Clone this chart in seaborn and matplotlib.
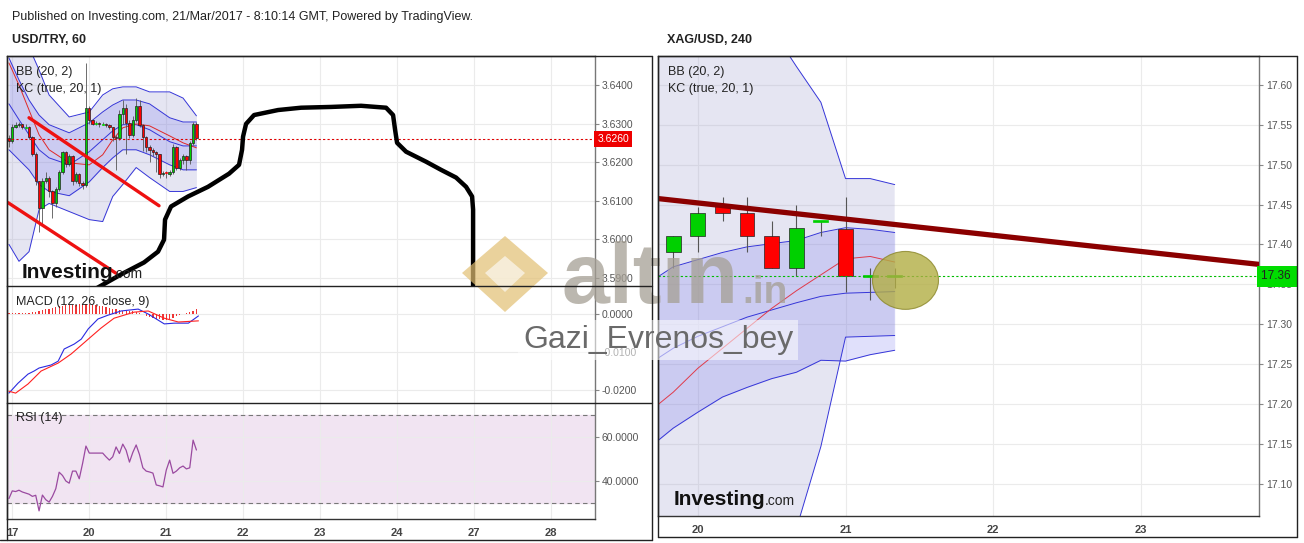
import numpy as np
import matplotlib
matplotlib.use("Agg")
import matplotlib.pyplot as plt
import matplotlib.transforms as mtransforms
import seaborn as sns
from matplotlib.patches import Ellipse, Polygon
from matplotlib.lines import Line2D

# ---------------- USD/TRY, 60 ----------------
etiquetas_dias_usd = ["17", "20", "21", "22", "23", "24", "27", "28"]

apertura_inicial_usd = 3.6262
cierre_usd = [3.6255, 3.6292, 3.6295, 3.6298, 3.6290, 3.6292, 3.6265, 3.6222, 3.6150, 3.6080,
              3.6150, 3.6160, 3.6125, 3.6095, 3.6130, 3.6175, 3.6225, 3.6195, 3.6215, 3.6150,
              3.6170, 3.6145, 3.6140, 3.6340, 3.6310, 3.6300, 3.6302, 3.6298, 3.6300, 3.6296,
              3.6290, 3.6265, 3.6262, 3.6325, 3.6340, 3.6302, 3.6270, 3.6310, 3.6345, 3.6295,
              3.6265, 3.6240, 3.6232, 3.6225, 3.6220, 3.6168, 3.6172, 3.6170, 3.6175, 3.6240,
              3.6185, 3.6205, 3.6215, 3.6205, 3.6250, 3.6300, 3.6262]
maximo_usd = [3.6270, 3.6300, 3.6305, 3.6305, 3.6300, 3.6298, 3.6293, 3.6268, 3.6225, 3.6152,
              3.6160, 3.6175, 3.6163, 3.6128, 3.6135, 3.6180, 3.6228, 3.6228, 3.6220, 3.6218,
              3.6175, 3.6172, 3.6150, 3.6457, 3.6345, 3.6312, 3.6306, 3.6304, 3.6303, 3.6302,
              3.6298, 3.6292, 3.6270, 3.6335, 3.6360, 3.6350, 3.6310, 3.6320, 3.6365, 3.6360,
              3.6298, 3.6268, 3.6245, 3.6236, 3.6228, 3.6222, 3.6178, 3.6176, 3.6180, 3.6248,
              3.6242, 3.6210, 3.6222, 3.6218, 3.6255, 3.6305, 3.6305]
minimo_usd = [3.6240, 3.6250, 3.6288, 3.6290, 3.6285, 3.6286, 3.6260, 3.6215, 3.6140, 3.6018,
              3.6040, 3.6145, 3.6110, 3.6055, 3.6085, 3.6125, 3.6170, 3.6188, 3.6190, 3.6140,
              3.6145, 3.6138, 3.6130, 3.6135, 3.6300, 3.6295, 3.6297, 3.6292, 3.6295, 3.6290,
              3.6285, 3.6255, 3.6180, 3.6258, 3.6300, 3.6220, 3.6262, 3.6265, 3.6305, 3.6290,
              3.6230, 3.6225, 3.6200, 3.6215, 3.6175, 3.6160, 3.6165, 3.6160, 3.6165, 3.6170,
              3.6180, 3.6180, 3.6195, 3.6180, 3.6195, 3.6245, 3.6258]

# bandas (hora de la vela -> valor)
horas_bandas_usd = [0, 3, 6, 9, 12, 18, 24, 28, 31, 34, 38, 42, 48, 52, 56]
bb_sup_usd = [3.6542, 3.6521, 3.6498, 3.6439, 3.6374, 3.6317, 3.6330, 3.6374, 3.6390, 3.6395,
              3.6395, 3.6382, 3.6382, 3.6366, 3.6320]
bb_inf_usd = [3.5987, 3.5943, 3.5968, 3.6077, 3.6093, 3.6072, 3.6051, 3.6046, 3.6111, 3.6142,
              3.6186, 3.6160, 3.6124, 3.6124, 3.6134]
bb_med_usd = [3.6457, 3.6400, 3.6335, 3.6271, 3.6232, 3.6198, 3.6193, 3.6219, 3.6258, 3.6289,
              3.6299, 3.6294, 3.6268, 3.6250, 3.6237]
kc_sup_usd = [3.6470, 3.6413, 3.6361, 3.6322, 3.6297, 3.6276, 3.6302, 3.6330, 3.6348, 3.6361,
              3.6361, 3.6351, 3.6315, 3.6304, 3.6304]
kc_med_usd = [3.6351, 3.6310, 3.6271, 3.6232, 3.6211, 3.6193, 3.6227, 3.6258, 3.6281, 3.6297,
              3.6297, 3.6284, 3.6253, 3.6242, 3.6242]
kc_inf_usd = [3.6232, 3.6206, 3.6180, 3.6142, 3.6124, 3.6113, 3.6149, 3.6186, 3.6211, 3.6232,
              3.6232, 3.6219, 3.6193, 3.6180, 3.6180]

# MACD
horas_macd = [0, 2.7, 5.7, 7.5, 9, 12.6, 14.7, 16.5, 19.5, 21.6, 23.7, 26.6, 29.6, 33.5, 38.6,
              41.6, 46.4, 49.4, 53.6, 56.6]
macd_usd = [-0.0208, -0.0182, -0.0158, -0.0150, -0.0142, -0.0134, -0.0124, -0.0092, -0.0079,
            -0.0066, -0.0039, -0.0013, -0.0003, 0.0008, 0.0013, 0.0000, -0.0026, -0.0024,
            -0.0024, -0.0005]
horas_senal = [0, 2, 5.7, 9.6, 14.7, 18.6, 23.7, 27.5, 31.4, 37.4, 41.6, 46.4, 50.6, 56.6]
senal_usd = [-0.0203, -0.0208, -0.0184, -0.0150, -0.0129, -0.0105, -0.0066, -0.0037, -0.0011,
             0.0005, 0.0008, -0.0011, -0.0021, -0.0018]
histograma_usd = [2, 2, 2, 2, 3, 3, 4, 5, 6, 8, 10, 12, 14, 16, 18, 20, 22, 24, 24, 25,
                  25, 26, 26, 26, 26, 25, 24, 22, 20, 18, 16, 14, 12, 10, 9, 8, 8, 7, 6, 4,
                  0, -4, -8, -10, -12, -14, -16, -16, -14, -10, -6, -3, -1, 2, 5, 9, 13]  # x 1e-4

rsi_usd = [32.0, 35.5, 35.2, 35.8, 35.0, 34.5, 34.0, 33.0, 33.5, 26.4,
           33.6, 31.5, 30.4, 33.0, 36.5, 44.0, 42.5, 40.0, 39.0, 44.5,
           44.5, 41.0, 48.0, 55.9, 52.7, 52.7, 52.7, 52.7, 52.7, 51.0,
           49.5, 51.0, 55.5, 52.5, 56.8, 54.0, 48.6, 53.0, 56.4, 52.0,
           46.0, 44.5, 44.1, 43.6, 38.2, 37.8, 37.3, 45.0, 49.5, 43.5,
           44.5, 46.0, 46.8, 45.5, 46.0, 58.6, 54.1]

# dibujo a mano sobre el grafico (posicion de dia, precio)
curva_x = [1.026, 1.416, 1.714, 1.896, 1.974, 1.987, 2.065, 2.286, 2.545, 2.818, 2.948, 2.987,
           3.000, 3.039, 3.143, 3.455, 3.753, 4.143, 4.532, 4.857, 4.948, 4.974, 5.000, 5.117,
           5.377, 5.571, 5.766, 5.896, 5.974, 5.987, 5.987]
curva_y = [3.5865, 3.5909, 3.5940, 3.5968, 3.5999, 3.6051, 3.6085, 3.6111, 3.6136, 3.6170,
           3.6193, 3.6232, 3.6266, 3.6299, 3.6322, 3.6335, 3.6341, 3.6343, 3.6346, 3.6341,
           3.6322, 3.6284, 3.6250, 3.6227, 3.6201, 3.6180, 3.6160, 3.6136, 3.6111, 3.6077,
           3.5850]
canal_sup_x, canal_sup_y = [0.221, 1.909], [3.6315, 3.6087]
canal_inf_x, canal_inf_y = [-0.052, 1.351], [3.6095, 3.5912]
precio_actual_usd = 3.6260

# ---------------- XAG/USD, 240 ----------------
tiempos_xag = [19.833, 20.0, 20.167, 20.333, 20.5, 20.667, 20.833, 21.0, 21.167, 21.333]
apertura_xag = [17.39, 17.41, 17.45, 17.44, 17.41, 17.37, 17.43, 17.42, 17.36, 17.36]
maximo_xag = [17.41, 17.4475, 17.46, 17.46, 17.43, 17.45, 17.43, 17.46, 17.37, 17.37]
minimo_xag = [17.371, 17.39, 17.43, 17.39, 17.37, 17.36, 17.41, 17.34, 17.33, 17.345]
cierre_xag = [17.41, 17.44, 17.44, 17.41, 17.37, 17.42, 17.43, 17.36, 17.36, 17.36]

tiempos_bandas_xag = [19.667, 19.833, 20.0, 20.167, 20.333, 20.5, 20.667, 20.833, 21.0, 21.167, 21.333]
bb_sup_xag = [17.74, 17.73, 17.72, 17.71, 17.69, 17.67, 17.623, 17.578, 17.4825, 17.4825, 17.475]
bb_inf_xag = [16.90, 16.91, 16.93, 16.95, 16.97, 17.00, 17.044, 17.147, 17.284, 17.285, 17.286]
bb_med_xag = [17.19, 17.215, 17.245, 17.27, 17.295, 17.32, 17.342, 17.362, 17.382, 17.385, 17.378]
kc_sup_xag = [17.352, 17.372, 17.381, 17.39, 17.397, 17.401, 17.405, 17.415, 17.421, 17.419, 17.415]
kc_med_xag = [17.25, 17.27, 17.285, 17.297, 17.309, 17.318, 17.327, 17.335, 17.339, 17.340, 17.341]
kc_inf_xag = [17.145, 17.17, 17.19, 17.209, 17.221, 17.232, 17.24, 17.255, 17.254, 17.262, 17.2675]

tendencia_x, tendencia_y = [19.729, 23.803], [17.4575, 17.375]
precio_actual_xag = 17.36
elipse_centro, elipse_ancho, elipse_alto = (21.406, 17.355), 0.447, 0.0725

# ---------------- estilo ----------------
sns.set_style("white")
plt.rcParams["font.family"] = ["Liberation Sans", "DejaVu Sans"]

ANCHO, ALTO = 1304, 543
VERDE, ROJO = "#00d000", "#ff0000"


def fx(px):
    return px / ANCHO


def fy(py):
    return 1 - py / ALTO


def caja(x0, y0, x1, y1):
    return [fx(x0), fy(y1), fx(x1) - fx(x0), fy(y0) - fy(y1)]


def hora_a_x(h):
    return -0.04 + np.asarray(h, float) / 23.0


def estilo(ax):
    ax.yaxis.tick_right()
    ax.set_axisbelow(True)
    ax.grid(True, color="#ebebeb", lw=0.8)
    ax.tick_params(axis="y", labelsize=7.5, labelcolor="#555555", color="#888888",
                   length=3, pad=2, right=True, left=False)
    ax.tick_params(axis="x", labelsize=8, labelcolor="#444444", color="#888888", length=3)
    for s in ax.spines.values():
        s.set_color("#333333")
        s.set_linewidth(1)
    ax.spines["right"].set_color("#777777")


def dibujar_velas(ax, x, o, h, l, c, ancho, alto_min, lw_mecha):
    o = np.asarray(o, float)
    c = np.asarray(c, float)
    doji = np.abs(c - o) < alto_min
    colores = [VERDE if ci >= oi else ROJO for oi, ci in zip(o, c)]
    bordes = [col if d else "#222222" for col, d in zip(colores, doji)]
    ax.vlines(x, l, h, colors="#555555", lw=lw_mecha, zorder=3)
    cuerpo = np.where(doji, alto_min, c - o)
    base = np.where(doji, o - alto_min / 2, o)
    ax.bar(x, cuerpo, bottom=base, width=ancho, color=colores, edgecolor=bordes,
           linewidth=0.5, zorder=4)


fig = plt.figure(figsize=(ANCHO / 100, ALTO / 100), dpi=100)
ax_p = fig.add_axes(caja(7, 56, 595, 286))
ax_m = fig.add_axes(caja(7, 286, 595, 403), sharex=ax_p)
ax_r = fig.add_axes(caja(7, 403, 595, 519), sharex=ax_p)
ax_s = fig.add_axes(caja(658, 56, 1259, 516))
for ax in (ax_p, ax_m, ax_r, ax_s):
    estilo(ax)

# ---- panel de precio USD/TRY ----
horas_velas = np.arange(len(cierre_usd))
x_velas = hora_a_x(horas_velas)
apertura_usd = [apertura_inicial_usd] + cierre_usd[:-1]
xb = hora_a_x(horas_bandas_usd)
ax_p.fill_between(xb, bb_inf_usd, bb_sup_usd, color="#9999cc", alpha=0.25, lw=0, zorder=1)
ax_p.fill_between(xb, kc_inf_usd, kc_sup_usd, color="#6666ee", alpha=0.2, lw=0, zorder=1)
for serie in (bb_sup_usd, bb_inf_usd, kc_sup_usd, kc_med_usd, kc_inf_usd):
    sns.lineplot(x=xb, y=serie, ax=ax_p, color="#3535d8", lw=0.7, zorder=2)
sns.lineplot(x=xb, y=bb_med_usd, ax=ax_p, color="#e02828", lw=0.7, zorder=2)
dibujar_velas(ax_p, x_velas, apertura_usd, maximo_usd, minimo_usd, cierre_usd,
              0.03, 0.00025, 0.6)
ax_p.axhline(precio_actual_usd, color="#dd0000", lw=0.8, ls=(0, (2, 2)), zorder=5)
ax_p.plot(canal_sup_x, canal_sup_y, color="#ee1111", lw=2.4, zorder=6)
ax_p.plot(canal_inf_x, canal_inf_y, color="#ee1111", lw=2.4, zorder=6)
ax_p.plot(curva_x, curva_y, color="black", lw=3.2, solid_capstyle="round",
          solid_joinstyle="round", zorder=7)
ax_p.set_ylim(3.5879, 3.6475)
ax_p.set_yticks([3.59, 3.60, 3.61, 3.62, 3.63, 3.64])
ax_p.yaxis.set_major_formatter(matplotlib.ticker.FormatStrFormatter("%.4f"))
ax_p.tick_params(axis="x", bottom=False, labelbottom=False)
ax_p.spines["bottom"].set_visible(False)

# ---- MACD ----
ax_m.bar(x_velas, np.asarray(histograma_usd) * 1e-4, width=0.016, color="#ee2020",
         alpha=0.9, lw=0, zorder=2)
sns.lineplot(x=hora_a_x(horas_macd), y=macd_usd, ax=ax_m, color="#2a2ae0", lw=0.8, zorder=3)
sns.lineplot(x=hora_a_x(horas_senal), y=senal_usd, ax=ax_m, color="#ff2020", lw=0.8, zorder=3)
ax_m.set_ylim(-0.0234, 0.00737)
ax_m.set_yticks([-0.02, -0.01, 0.0])
ax_m.yaxis.set_major_formatter(matplotlib.ticker.FormatStrFormatter("%.4f"))
ax_m.tick_params(axis="x", bottom=False, labelbottom=False)
ax_m.spines["bottom"].set_visible(False)
ax_m.spines["top"].set_visible(False)

# ---- RSI ----
ax_r.axhspan(30, 70, color="#f1e4f2", zorder=0)
ax_r.axhline(70, color="#777777", lw=0.8, ls=(0, (4, 3)), zorder=1)
ax_r.axhline(30, color="#777777", lw=0.8, ls=(0, (4, 3)), zorder=1)
sns.lineplot(x=x_velas, y=rsi_usd, ax=ax_r, color="#9a4aa0", lw=0.9, zorder=3)
ax_r.set_ylim(22.7, 75.5)
ax_r.set_yticks([40, 60])
ax_r.yaxis.set_major_formatter(matplotlib.ticker.FormatStrFormatter("%.4f"))
ax_r.spines["top"].set_visible(False)
ax_r.set_xlim(-0.065, 7.57)
ax_r.set_xticks(range(len(etiquetas_dias_usd)))
ax_r.set_xticklabels(etiquetas_dias_usd, fontweight="bold")

# ---- XAG/USD ----
ax_s.fill_between(tiempos_bandas_xag, bb_inf_xag, bb_sup_xag, color="#9999cc", alpha=0.25,
                  lw=0, zorder=1)
ax_s.fill_between(tiempos_bandas_xag, kc_inf_xag, kc_sup_xag, color="#6666ee", alpha=0.2,
                  lw=0, zorder=1)
for serie in (bb_sup_xag, bb_inf_xag, kc_sup_xag, kc_med_xag, kc_inf_xag):
    sns.lineplot(x=tiempos_bandas_xag, y=serie, ax=ax_s, color="#3535d8", lw=0.7, zorder=2)
sns.lineplot(x=tiempos_bandas_xag, y=bb_med_xag, ax=ax_s, color="#e03a4a", lw=0.7, zorder=2)
dibujar_velas(ax_s, tiempos_xag, apertura_xag, maximo_xag, minimo_xag, cierre_xag,
              0.1, 0.0025, 0.8)
ax_s.axhline(precio_actual_xag, color="#00bb00", lw=0.8, ls=(0, (2, 2)), zorder=5)
ax_s.plot(tendencia_x, tendencia_y, color="#8b0000", lw=3.8, zorder=6)
ax_s.add_patch(Ellipse(elipse_centro, elipse_ancho, elipse_alto, facecolor="#b2ae44",
                       edgecolor="#8a8628", lw=0.8, alpha=0.8, zorder=7))
ax_s.set_xlim(19.73, 23.80)
ax_s.set_ylim(17.06, 17.636)
ax_s.set_xticks([20, 21, 22, 23])
ax_s.set_xticklabels(["20", "21", "22", "23"], fontweight="bold")
ax_s.set_yticks(np.round(np.arange(17.10, 17.61, 0.05), 2))
ax_s.yaxis.set_major_formatter(matplotlib.ticker.FormatStrFormatter("%.2f"))

# etiquetas de precio actual
tr_p = mtransforms.blended_transform_factory(ax_p.transAxes, ax_p.transData)
ax_p.text(1.004, precio_actual_usd, "3.6260", transform=tr_p, ha="left", va="center",
          fontsize=7.5, color="white", clip_on=False, zorder=10,
          bbox=dict(boxstyle="square,pad=0.3", fc="#ee0000", ec="none"))
tr_s = mtransforms.blended_transform_factory(ax_s.transAxes, ax_s.transData)
ax_s.text(1.003, precio_actual_xag, "17.36 ", transform=tr_s, ha="left", va="center",
          fontsize=8.5, color="#222222", clip_on=False, zorder=10,
          bbox=dict(boxstyle="square,pad=0.35", fc="#00dd00", ec="none"))

# ---------------- textos ----------------
fig.text(fx(12), fy(17), "Published on Investing.com, 21/Mar/2017 - 8:10:14 GMT, Powered by TradingView.",
         fontsize=9, color="#222222", va="center")
fig.text(fx(12), fy(40), "USD/TRY, 60", fontsize=9, fontweight="bold", color="#222222", va="center")
fig.text(fx(667), fy(40), "XAG/USD, 240", fontsize=9, fontweight="bold", color="#222222", va="center")
for x0, y0, t in [(16, 72, "BB (20, 2)"), (16, 89, "KC (true, 20, 1)"),
                  (16, 302, "MACD (12, 26, close, 9)"), (16, 418, "RSI (14)"),
                  (668, 72, "BB (20, 2)"), (668, 89, "KC (true, 20, 1)")]:
    fig.text(fx(x0), fy(y0), t, fontsize=9, color="#222222", va="center", zorder=9)

for x0, y0 in [(22, 278), (674, 505)]:
    fig.text(fx(x0), fy(y0), "Investing", fontsize=15, fontweight="bold", color="#111111",
             va="baseline", zorder=9)
    fig.text(fx(x0 + 91), fy(y0), ".com", fontsize=10, color="#222222", va="baseline", zorder=9)

# marca de agua
fig.add_artist(Polygon([(fx(505), fy(236)), (fx(548), fy(273)), (fx(505), fy(312)),
                        (fx(462), fy(273))], closed=True, facecolor="#e2bf72", alpha=0.7,
                       edgecolor="none", transform=fig.transFigure, zorder=8))
fig.add_artist(Polygon([(fx(505), fy(256)), (fx(525), fy(273)), (fx(505), fy(292)),
                        (fx(485), fy(273))], closed=True, facecolor="white", alpha=0.6,
                       edgecolor="none", transform=fig.transFigure, zorder=8))
fig.text(fx(562), fy(303), "altın", fontsize=62, fontweight="bold", color="#a59f94",
         alpha=0.75, va="baseline", zorder=8)
fig.text(fx(742), fy(303), ".in", fontsize=28, fontweight="bold", color="#a59f94",
         alpha=0.75, va="baseline", zorder=8)
fig.text(fx(523), fy(340), "Gazi_Evrenos_bey", fontsize=23, color="#6a6a6a", va="center",
         zorder=9, bbox=dict(boxstyle="square,pad=0.15", fc="white", ec="none", alpha=0.55))

# marcos
lineas = [((7, 652), (56, 56)), ((652, 652), (56, 540)), ((0, 652), (540, 540)),
          ((7, 7), (56, 540)), ((7, 652), (286, 286)), ((7, 652), (403, 403)),
          ((658, 1297), (56, 56)), ((658, 1297), (537, 537)), ((658, 658), (56, 537)),
          ((1297, 1297), (56, 537))]
for (xa, xb_), (ya, yb) in lineas:
    fig.add_artist(Line2D([fx(xa), fx(xb_)], [fy(ya), fy(yb)], color="#222222", lw=1,
                          transform=fig.transFigure, zorder=9))

fig.savefig("out.png", dpi=100, facecolor="white")
